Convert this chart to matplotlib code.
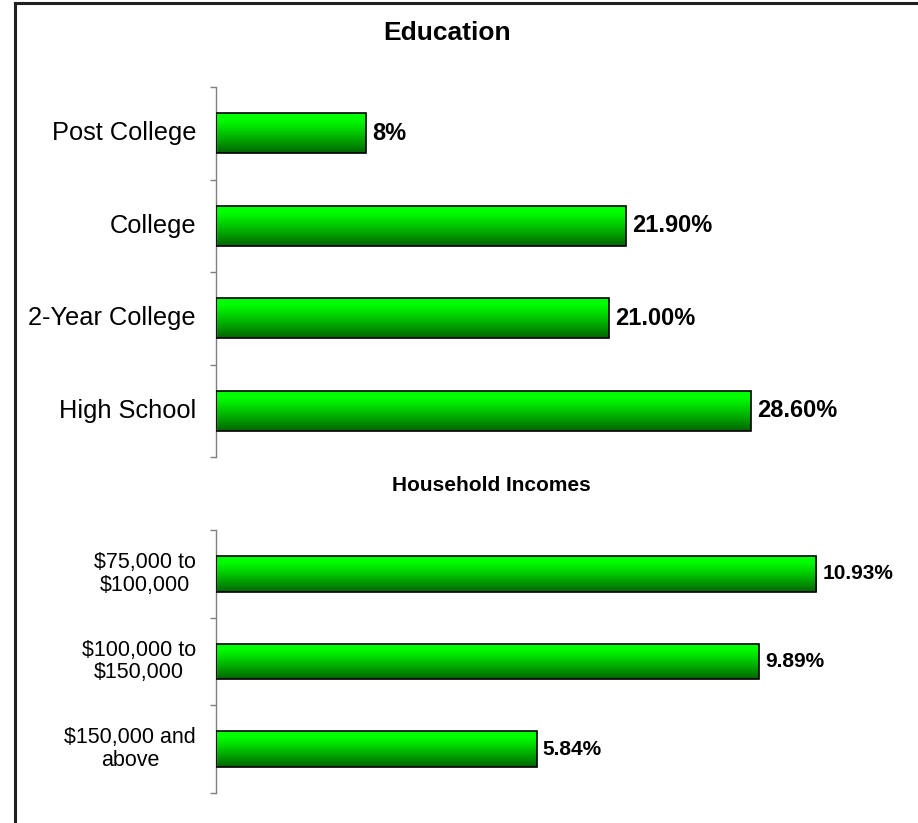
import matplotlib
matplotlib.use("Agg")
import matplotlib.pyplot as plt
import numpy as np
from matplotlib.lines import Line2D
from matplotlib.transforms import blended_transform_factory

plt.rcParams['font.family'] = ['Liberation Sans', 'DejaVu Sans']

edu_categories = ["Post College", "College", "2-Year College", "High School"]
edu_values = [8.0, 21.9, 21.0, 28.6]
edu_labels = ["8%", "21.90%", "21.00%", "28.60%"]

inc_categories = ["$75,000 to\n$100,000", "$100,000 to\n$150,000", "$150,000 and\nabove"]
inc_values = [10.93, 9.89, 5.84]
inc_labels = ["10.93%", "9.89%", "5.84%"]

W, H = 918, 823
fig = plt.figure(figsize=(W / 100, H / 100), dpi=100)

# gradient (top bright -> bottom dark)
t = np.linspace(0, 1, 200)
top = np.array([0.0, 1.0, 0.0])
bot = np.array([0.0, 0.39, 0.0])
w = np.clip((t - 0.15) / 0.85, 0, 1) ** 1.1
grad = (top[None, :] * (1 - w[:, None]) + bot[None, :] * w[:, None])[:, None, :]


def fx(px):
    return px / W


def fy(py):
    return 1 - py / H


def draw(ax, cats, vals, labels, xmax, bar_h, label_size, val_size, linesp):
    n = len(cats)
    ys = np.arange(n)
    bars = ax.barh(ys, vals, height=bar_h, color='none', edgecolor='black',
                   linewidth=1.2, zorder=3)
    for b in bars:
        x0, y0 = b.get_x(), b.get_y()
        bw, bh = b.get_width(), b.get_height()
        im = ax.imshow(grad, extent=(x0, x0 + bw, y0 + bh, y0), origin='upper',
                       aspect='auto', zorder=2, interpolation='bilinear')
        im.set_clip_path(b)
    ax.set_xlim(0, xmax)
    ax.set_ylim(n - 0.5, -0.5)
    for y, v, lab in zip(ys, vals, labels):
        ax.annotate(lab, (v, y), xytext=(4.5, 0), textcoords='offset points',
                    ha='left', va='center', fontsize=val_size, fontweight='bold')
    ax.set_yticks(ys)
    ax.set_yticklabels([])
    trans = blended_transform_factory(fig.transFigure, ax.transData)
    for y, c in zip(ys, cats):
        ax.text(fx(196), y, c, transform=trans, ha='right', va='center',
                fontsize=label_size, linespacing=linesp, multialignment='center')
    ax.set_yticks(np.arange(n + 1) - 0.5, minor=True)
    ax.tick_params(axis='y', which='major', length=0)
    ax.tick_params(axis='y', which='minor', length=4.5, width=1.0, color='#808080',
                   direction='out')
    ax.set_xticks([])
    for s in ['top', 'right', 'bottom']:
        ax.spines[s].set_visible(False)
    ax.spines['left'].set_color('#808080')
    ax.spines['left'].set_linewidth(1.0)


ax1 = fig.add_axes([fx(216), fy(457), fx(900) - fx(216), (457 - 87) / H])
draw(ax1, edu_categories, edu_values, edu_labels, 684 / 18.7, 0.43, 18.3, 17, 1.2)

ax2 = fig.add_axes([fx(216), fy(793), fx(900) - fx(216), (793 - 530) / H])
draw(ax2, inc_categories, inc_values, inc_labels, 684 / 54.9, 0.41, 15.5, 15, 1.1)

fig.text(fx(447), fy(33), "Education", ha='center', va='center',
         fontsize=19, fontweight='bold')
fig.text(fx(491), fy(486), "Household Incomes", ha='center', va='center',
         fontsize=15, fontweight='bold')

# outer frame (top and left visible)
fig.add_artist(Line2D([fx(15), 1.0], [fy(2.5), fy(2.5)], transform=fig.transFigure,
                      color='#202020', linewidth=2.2))
fig.add_artist(Line2D([fx(15), fx(15)], [fy(2.5), 0.0], transform=fig.transFigure,
                      color='#202020', linewidth=2.2))

fig.savefig("out.png", dpi=100)
